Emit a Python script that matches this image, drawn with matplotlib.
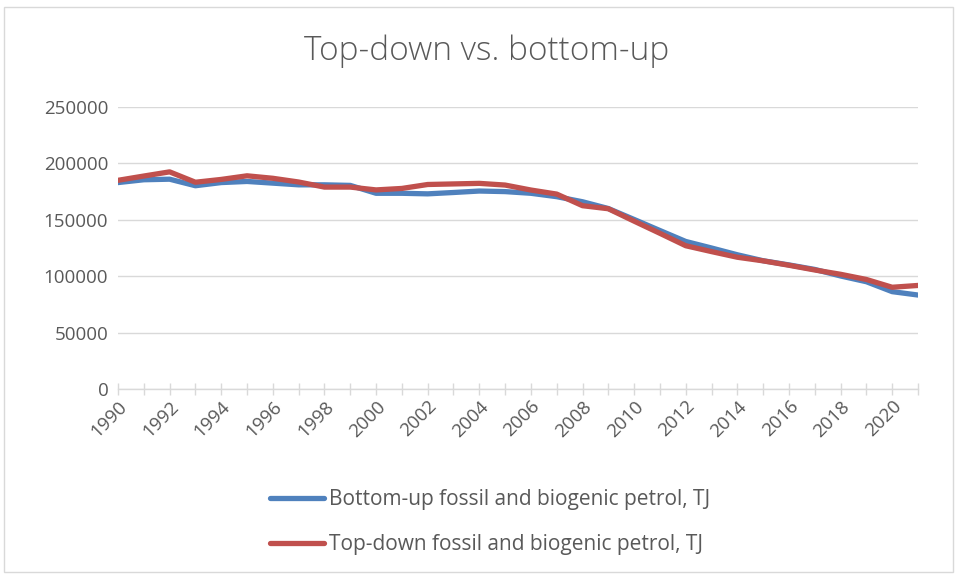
import matplotlib
matplotlib.use("Agg")
import matplotlib.pyplot as plt
from matplotlib.patches import Rectangle

years = list(range(1990, 2022))
bottom_up = [183000, 185500, 186000, 180200, 183000, 184000, 182500, 181000, 181000, 180500,
             173500, 173500, 173000, 174200, 175500, 175000, 173500, 170500, 166000, 160000,
             150300, 140500, 130800, 125000, 119000, 113700, 110000, 106000, 100200, 95100,
             86300, 83300]
top_down = [185000, 188800, 192500, 183300, 185800, 189000, 186800, 183500, 179000, 179000,
            176500, 177800, 181300, 181800, 182300, 180800, 176400, 172800, 162500, 159800,
            148800, 138000, 127000, 121800, 116800, 113600, 109700, 105500, 101700, 97100,
            90200, 91800]
series_labels = ["Bottom-up fossil and biogenic petrol, TJ", "Top-down fossil and biogenic petrol, TJ"]
title = "Top-down vs. bottom-up"
yticks = [0, 50000, 100000, 150000, 200000, 250000]

W, H = 957, 577
fig = plt.figure(figsize=(W / 100, H / 100), dpi=100)
plt.rcParams['font.family'] = ['Open Sans', 'DejaVu Sans']
txt = '#595959'

fig.patches.append(Rectangle((4 / W, 1 - 572 / H), 949 / W, 565 / H, transform=fig.transFigure,
                             fill=False, edgecolor='#D9D9D9', linewidth=1))

ax = fig.add_axes([118 / W, 1 - 389 / H, 800 / W, 282 / H])
ax.plot(years, bottom_up, color='#4F81BD', lw=3.8, solid_capstyle='round', label=series_labels[0], zorder=3)
ax.plot(years, top_down, color='#C0504D', lw=3.8, solid_capstyle='round', label=series_labels[1], zorder=4)

ax.set_xlim(1990, 2021)
ax.set_ylim(0, 250000)
ax.set_yticks(yticks)
ax.set_yticklabels([str(v) for v in yticks], fontsize=13.5, color=txt)
ax.grid(axis='y', color='#D9D9D9', lw=1)
ax.set_axisbelow(True)
ax.tick_params(axis='y', length=0, pad=7)

ax.set_xticks(years, minor=True)
ax.set_xticks(years[::2])
ax.set_xticklabels([str(y) for y in years[::2]], rotation=45, ha='right', va='top',
                   rotation_mode='anchor', fontsize=13.5, color=txt)
ax.tick_params(axis='x', which='both', direction='inout', length=8, color='#D9D9D9', width=1, pad=2)

for s in ['top', 'right', 'left']:
    ax.spines[s].set_visible(False)
ax.spines['bottom'].set_color('#D9D9D9')
ax.spines['bottom'].set_linewidth(1)

fig.text(487 / W, 1 - 51 / H, title, ha='center', va='center', fontsize=24, color=txt,
         fontweight='light')

leg = fig.legend(loc='center', bbox_to_anchor=(490 / W, 1 - 522 / H), frameon=False,
                 fontsize=15, labelcolor=txt, handlelength=2.6, handletextpad=0.25,
                 labelspacing=1.15, ncol=1)

fig.savefig('out.png', dpi=100, facecolor='white')
